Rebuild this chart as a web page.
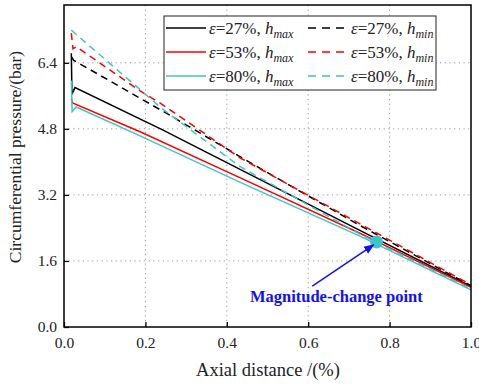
<!DOCTYPE html>
<html>
<head>
<meta charset="utf-8">
<script src="https://cdn.jsdelivr.net/npm/d3@7"></script>
<style>
  body { margin: 0; background: #fff; }
  svg { display: block; }
</style>
</head>
<body>
<svg id="chart" width="479" height="385" font-family="Liberation Serif"></svg>
<script>
// values: [axial distance, pressure in bar]
const e27Max = [[0.018, 6.63], [0.0195, 5.64], [0.027, 5.8], [0.241, 4.78], [0.482, 3.57], [0.727, 2.34], [1.0, 0.98]]
const e53Max = [[0.018, 5.53], [0.021, 5.43], [0.187, 4.73], [0.432, 3.62], [0.727, 2.27], [1.0, 0.96]]
const e80Max = [[0.018, 5.97], [0.02, 5.22], [0.03, 5.33], [0.187, 4.63], [0.432, 3.51], [0.727, 2.2], [1.0, 0.9]]
const e27Min = [[0.018, 6.55], [0.024, 6.46], [0.26, 5.13], [0.482, 3.84], [0.727, 2.46], [1.0, 1.0]]
const e53Min = [[0.018, 7.12], [0.022, 6.74], [0.03, 6.79], [0.187, 5.72], [0.24, 5.4], [0.432, 4.1], [0.727, 2.5], [1.0, 1.02]]
const e80Min = [[0.018, 7.19], [0.241, 5.29], [0.432, 3.89], [0.727, 2.25], [1.0, 0.92]]

const eccentricities = ['27%', '53%', '80%']
const xTicks = [0.0, 0.2, 0.4, 0.6, 0.8, 1.0]
const yTicks = [0.0, 1.6, 3.2, 4.8, 6.4]

// magnitude-change point and where its label sits
const changePoint = [0.768, 2.06]
const changeLabel = [0.669, 0.6]

const d3c = window.d3
const FONT = 'Liberation Serif'
const colors = ['#000000', '#ff0000', '#3fc4c8']

const series = [
  { data: e27Max, color: colors[0], dashed: false },
  { data: e53Max, color: colors[1], dashed: false },
  { data: e80Max, color: colors[2], dashed: false },
  { data: e27Min, color: colors[0], dashed: true },
  { data: e53Min, color: colors[1], dashed: true },
  { data: e80Min, color: colors[2], dashed: true }
]

const svg = d3c.select('#chart')
const margin = { top: 5, right: 8, bottom: 58, left: 64 }
const width = 479 - margin.left - margin.right
const height = 385 - margin.top - margin.bottom

const g = svg.append('g').attr('transform', `translate(${margin.left},${margin.top})`)

const x = d3c.scaleLinear().domain([0, 1]).range([0, width])
const y = d3c.scaleLinear().domain([0, 7.8]).range([height, 0])

// dotted grid
g.append('g')
  .selectAll('line')
  .data(xTicks.slice(1, -1))
  .enter().append('line')
  .attr('x1', d => x(d)).attr('x2', d => x(d))
  .attr('y1', 0).attr('y2', height)
  .attr('stroke', '#999').attr('stroke-width', 1).attr('stroke-dasharray', '1.2,3.5')

g.append('g')
  .selectAll('line')
  .data(yTicks.slice(1))
  .enter().append('line')
  .attr('y1', d => y(d)).attr('y2', d => y(d))
  .attr('x1', 0).attr('x2', width)
  .attr('stroke', '#999').attr('stroke-width', 1).attr('stroke-dasharray', '1.2,3.5')

// axes with inward ticks
const fmt = d3c.format('.1f')
const xAxis = g.append('g')
  .attr('transform', `translate(0,${height})`)
  .call(d3c.axisBottom(x).tickValues(xTicks).tickFormat(fmt).tickSizeInner(-5).tickSizeOuter(0).tickPadding(10))
const yAxis = g.append('g')
  .call(d3c.axisLeft(y).tickValues(yTicks).tickFormat(fmt).tickSizeInner(-5).tickSizeOuter(0).tickPadding(7))

;[xAxis, yAxis].forEach(ax => {
  ax.attr('font-family', FONT).attr('font-size', 15.5)
  ax.select('.domain').remove()
  ax.selectAll('line').attr('stroke', '#000').attr('stroke-width', 1.3)
  ax.selectAll('text').attr('fill', '#222')
})

// curves
const line = d3c.line().x(d => x(d[0])).y(d => y(d[1]))
g.append('g')
  .selectAll('path')
  .data(series)
  .enter().append('path')
  .attr('d', d => line(d.data))
  .attr('fill', 'none')
  .attr('stroke', d => d.color)
  .attr('stroke-width', 1.5)
  .attr('stroke-dasharray', d => d.dashed ? '7,5' : null)

// frame
g.append('rect')
  .attr('width', width).attr('height', height)
  .attr('fill', 'none').attr('stroke', '#000').attr('stroke-width', 1.5)

// annotation
svg.append('defs').append('marker')
  .attr('id', 'arrow')
  .attr('viewBox', '0 0 10 10')
  .attr('refX', 9).attr('refY', 5)
  .attr('markerWidth', 7).attr('markerHeight', 7)
  .attr('orient', 'auto')
  .append('path').attr('d', 'M0,1 L10,5 L0,9 Z').attr('fill', '#1010ff')

g.append('circle')
  .attr('cx', x(changePoint[0])).attr('cy', y(changePoint[1]))
  .attr('r', 6.5).attr('fill', '#3fc4c8')

g.append('line')
  .attr('x1', x(changeLabel[0]) - 24).attr('y1', y(changeLabel[1]) - 16)
  .attr('x2', x(changePoint[0]) - 3).attr('y2', y(changePoint[1]) + 3)
  .attr('stroke', '#1010ff').attr('stroke-width', 1.5)
  .attr('marker-end', 'url(#arrow)')

g.append('text')
  .attr('x', x(changeLabel[0])).attr('y', y(changeLabel[1]))
  .attr('text-anchor', 'middle')
  .attr('font-size', 16.5).attr('font-weight', 'bold').attr('fill', '#1010ff')
  .text('Magnitude-change point')

// axis titles
svg.append('text')
  .attr('x', 268).attr('y', 376)
  .attr('text-anchor', 'middle').attr('font-size', 18.5).attr('fill', '#222')
  .text('Axial distance /(%)')

svg.append('text')
  .attr('transform', 'translate(21,157) rotate(-90)')
  .attr('text-anchor', 'middle').attr('font-size', 17.5).attr('fill', '#222')
  .text('Circumferential pressure/(bar)')

// legend
const legend = svg.append('g').attr('transform', 'translate(164,16)')
legend.append('rect')
  .attr('width', 272).attr('height', 74)
  .attr('fill', '#fff').attr('stroke', '#222').attr('stroke-width', 1)

const entries = []
eccentricities.forEach((e, i) => {
  entries.push({ e, sub: 'max', color: colors[i], dashed: false, col: 0, row: i })
  entries.push({ e, sub: 'min', color: colors[i], dashed: true, col: 1, row: i })
})

const item = legend.selectAll('g.item')
  .data(entries)
  .enter().append('g')
  .attr('class', 'item')
  .attr('transform', d => `translate(${d.col * 142 + 2},${12 + d.row * 24})`)

item.append('line')
  .attr('x1', 0).attr('x2', 40)
  .attr('stroke', d => d.color).attr('stroke-width', 1.5)
  .attr('stroke-dasharray', d => d.dashed ? '8,6' : null)

const label = item.append('text')
  .attr('x', 43).attr('y', 6)
  .attr('font-size', 17).attr('fill', '#222')
label.append('tspan').attr('font-style', 'italic').text('ε')
label.append('tspan').text(d => `=${d.e}, `)
label.append('tspan').attr('font-style', 'italic').text('h')
label.append('tspan').attr('font-style', 'italic').attr('font-size', 12).attr('dy', 4).text(d => d.sub)
</script>
</body>
</html>
